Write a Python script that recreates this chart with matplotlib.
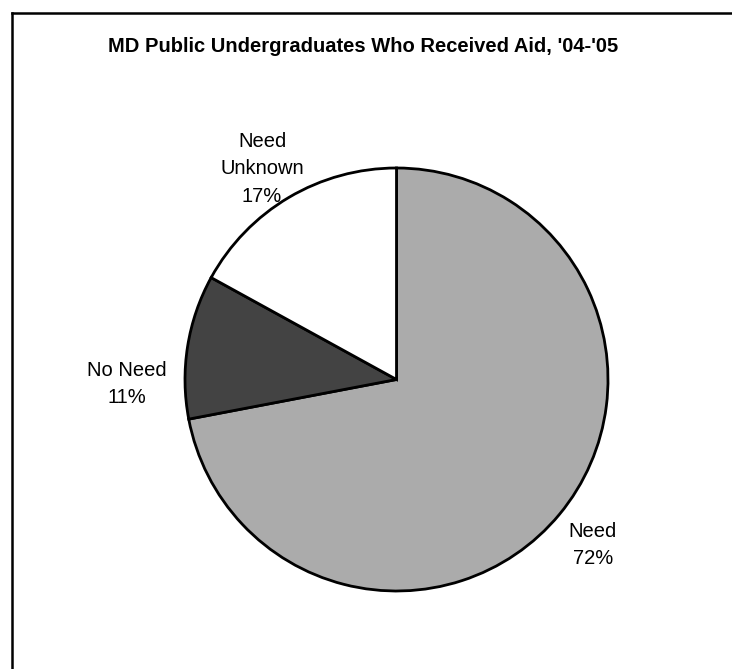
import matplotlib
matplotlib.use("Agg")
import matplotlib.pyplot as plt
from matplotlib.lines import Line2D

plt.rcParams['font.family'] = ['Liberation Sans', 'DejaVu Sans']

# Data
categories = ["Need", "No Need", "Need\nUnknown"]
shares = [72, 11, 17]
colors = ["#ababab", "#434343", "#ffffff"]
title = "MD Public Undergraduates Who Received Aid, '04-'05"

# Layout (pixel units, origin at top-left); label_pos = centre of each label block
W, H = 732, 669
pie_center = (396.5, 379.5)
pie_radius = 211.5
label_pos = [(593, 545), (127, 384), (262, 169)]

fig = plt.figure(figsize=(W / 100, H / 100), dpi=100)
ax = fig.add_axes([0, 0, 1, 1])

ax.pie(shares, colors=colors, startangle=90, counterclock=False,
       center=(pie_center[0], H - pie_center[1]), radius=pie_radius,
       wedgeprops=dict(edgecolor='black', linewidth=2.0),
       frame=True)
ax.set_xlim(0, W)
ax.set_ylim(0, H)
ax.set_aspect('equal')
ax.axis('off')

for cat, val, (x, y) in zip(categories, shares, label_pos):
    txt = f"{cat}\n{val}%"
    ax.text(x, H - y, txt, ha='center', va='center',
            fontsize=14.5, linespacing=1.55, color='black')

ax.text(363, H - 47, title, ha='center', va='center', fontsize=14.5,
        fontweight='bold', color='black')

# Outer frame (top and left edges)
fig.add_artist(Line2D([12 / W, 1.0], [1 - 13 / H, 1 - 13 / H],
                      transform=fig.transFigure, color='black', linewidth=1.8))
fig.add_artist(Line2D([12 / W, 12 / W], [0.0, 1 - 13 / H],
                      transform=fig.transFigure, color='black', linewidth=1.8))

fig.savefig("out.png", dpi=100)
